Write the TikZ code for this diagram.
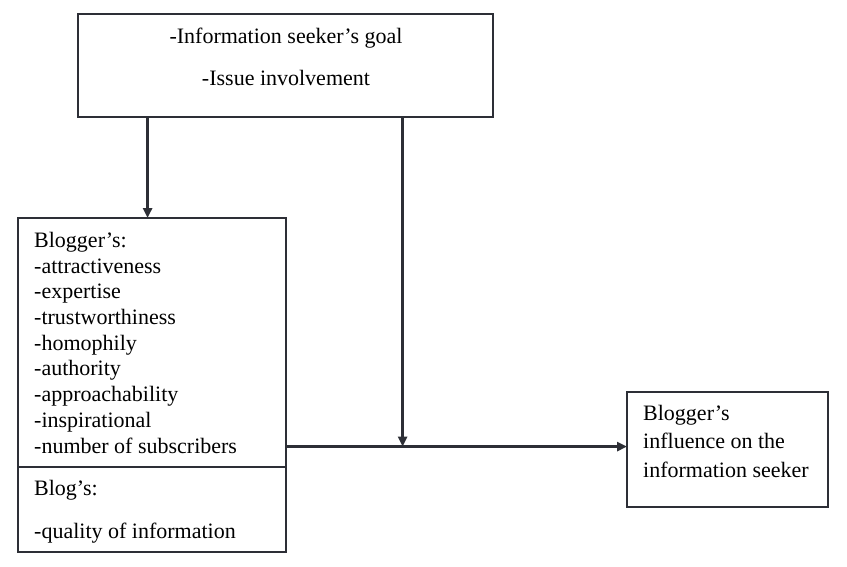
\documentclass[tikz,border=0pt]{standalone}
\usepackage{fontspec}
\setmainfont{Liberation Serif}
\usepackage{tikz}
\usetikzlibrary{arrows.meta, positioning}
\definecolor{ink}{RGB}{45,47,54}
\tikzset{
  frame/.style = {draw=ink, line width=2.6pt, rectangle, inner sep=0pt,
    outer sep=0pt, anchor=north west},
  txt/.style = {inner sep=0pt, text=black,
    font=\fontsize{22}{25.7}\selectfont},
  flow/.style = {ink, line width=2.6pt, -{Triangle[length=10pt,width=9pt]}}
}

\begin{document}
\begin{tikzpicture}[x=1pt, y=-1pt]
\useasboundingbox (0,0) rectangle (847,566);
% boxes
\node [frame, minimum width=415pt, minimum height=103pt] (goal) at (78,14) {};
\node [frame, minimum width=268pt, minimum height=249pt] (blogger) at (18,218) {};
\node [frame, minimum width=268pt, minimum height=85pt] (blog) at (18,467) {};
\node [frame, minimum width=201pt, minimum height=115pt] (influence) at (627,392) {};
% texts
\node [txt, anchor=north, align=center] (goaltxt) at (286,28)
  {-Information seeker’s goal\\[16.3pt]-Issue involvement};
\node [txt, anchor=north west, align=left] (bloggertxt) at (34,232)
  {Blogger’s:\\-attractiveness\\-expertise\\-trustworthiness\\-homophily\\
   -authority\\-approachability\\-inspirational\\-number of subscribers};
\node [txt, anchor=north west, align=left] (blogtxt) at (34,480)
  {Blog’s:\\[17.3pt]-quality of information};
\node [txt, anchor=north west, align=left,
  font=\fontsize{22}{28.5}\selectfont] (influencetxt) at (643,405)
  {Blogger’s\\influence on the\\information seeker};
% connectors
\coordinate (split) at (402.6,446.6);
\draw [flow] ([xshift=-4.4pt]blogger.north |- goal.south) -- ([xshift=-4.4pt]blogger.north);
\draw [flow] (goal.south -| split) -- (split);
\draw [flow] (blogger.east |- split) -- (influence.west |- split);
\end{tikzpicture}
\end{document}
